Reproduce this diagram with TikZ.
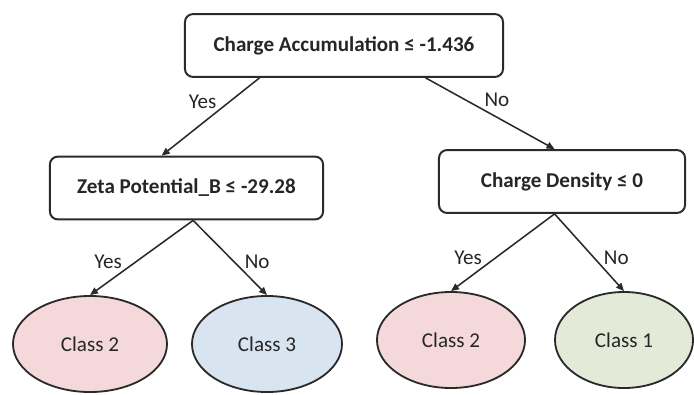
\documentclass[tikz,border=0pt]{standalone}
\usepackage{fontspec}
\setmainfont{Carlito}
\usetikzlibrary{arrows.meta,shapes.geometric,calc}
\definecolor{ink}{HTML}{262626}
\definecolor{edge}{HTML}{2A2A2A}
\definecolor{pinkfill}{HTML}{F5D9DA}
\definecolor{bluefill}{HTML}{D9E4F1}
\definecolor{greenfill}{HTML}{E3EBD8}
\tikzset{
  >={Triangle[length=2.0mm,width=1.7mm]},
  split/.style={->, draw=edge, line width=1.1pt},
  test/.style={draw=edge, fill=white, rounded corners=2mm, line width=1.4pt,
               minimum height=1.57cm, text=ink,
               font=\fontsize{15}{18}\selectfont\bfseries},
  leaf/.style={ellipse, draw=edge, line width=1.3pt, inner sep=0pt,
               minimum height=2.4cm, text=ink, font=\fontsize{15}{18}\selectfont},
  answer/.style={font=\fontsize{15}{18}\selectfont, text=ink, inner sep=1pt},
}

\begin{document}
\begin{tikzpicture}[x=0.025cm,y=-0.025cm]
\path[use as bounding box] (0,0) rectangle (694,394);

% Decision nodes ---------------------------------------------------------------
\node[test, minimum width=7.95cm] (root) at (344,45.5) {Charge Accumulation ≤ -1.436};
\node[test, minimum width=6.83cm] (zeta) at (186.5,188) {Zeta Potential\_B ≤ -29.28};
\node[test, minimum width=6.15cm] (density) at (562,181.5) {Charge Density ≤ 0};

% Leaves -----------------------------------------------------------------------
\node[leaf, fill=pinkfill, minimum width=3.85cm] (zetayes) at (90,344) {Class 2};
\node[leaf, fill=bluefill, minimum width=3.75cm] (zetano) at (267,344) {Class 3};
\node[leaf, fill=pinkfill, minimum width=3.7cm] (densyes) at (451,340) {Class 2};
\node[leaf, fill=greenfill, minimum width=3.45cm] (densno) at (624,340) {Class 1};

% Splits -----------------------------------------------------------------------
\draw[split] ($(root.south west)!0.236!(root.south east)$) -- ($(zeta.north west)!0.41!(zeta.north east)$)
  node[answer, pos=0.42, anchor=south east] {Yes};
\draw[split] ($(root.south west)!0.755!(root.south east)$) -- ($(density.north west)!0.47!(density.north east)$)
  node[answer, pos=0.44, anchor=south west] {No};

\draw[split] ($(zeta.south west)!0.524!(zeta.south east)$) -- (zetayes.north)
  node[answer, pos=0.67, anchor=south east] {Yes};
\draw[split] ($(zeta.south west)!0.524!(zeta.south east)$) -- (zetano.north)
  node[answer, pos=0.67, anchor=south west] {No};

\draw[split] ($(density.south west)!0.47!(density.south east)$) -- (densyes.north)
  node[answer, pos=0.68, anchor=south east] {Yes};
\draw[split] ($(density.south west)!0.47!(density.south east)$) -- (densno.north)
  node[answer, pos=0.68, anchor=south west] {No};

\end{tikzpicture}
\end{document}
